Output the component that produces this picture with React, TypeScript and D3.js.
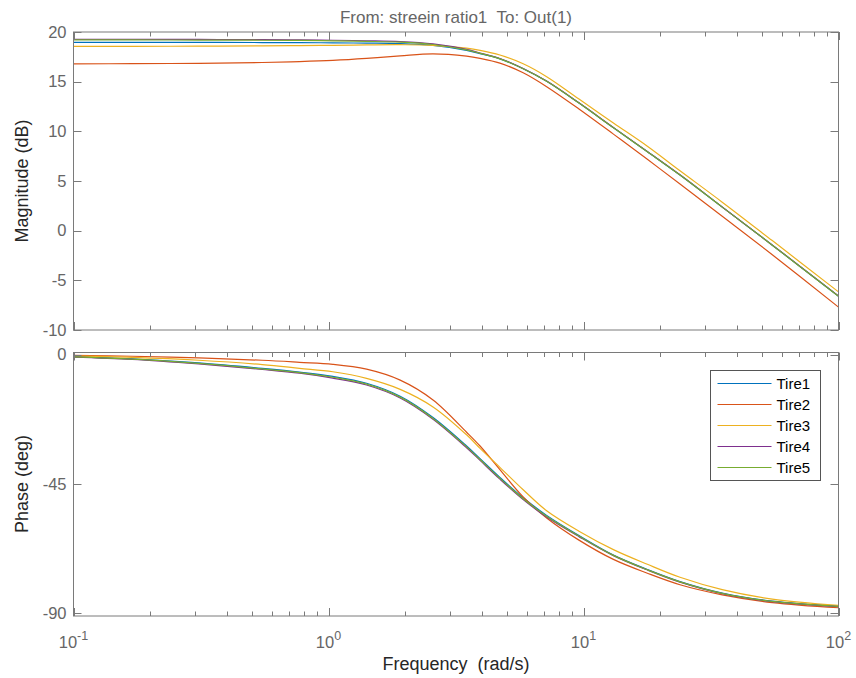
import React from 'react';
import * as d3 from 'd3';

// Sample frequencies (rad/s) shared by both panels
const freqs = [0.1, 0.17, 0.31, 0.55, 0.77, 1.04, 1.41, 1.91, 2.57, 3.48, 3.93, 4.7, 5.8, 7.17, 9.6, 13.1, 17.8, 23.9, 35, 55, 100];

const tireNames = ['Tire1', 'Tire2', 'Tire3', 'Tire4', 'Tire5'];
const tireColors = ['#0072BD', '#D95319', '#EDB120', '#7E2F8E', '#77AC30'];

// Magnitude (dB)
const magTire1 = [18.96, 18.96, 18.95, 18.94, 18.93, 18.91, 18.88, 18.83, 18.64, 18.15, 17.82, 17.3, 16.3, 15.04, 12.85, 10.37, 7.95, 5.6, 2.37, -1.46, -6.6];
const magTire2 = [16.8, 16.81, 16.85, 16.93, 17.02, 17.14, 17.34, 17.6, 17.8, 17.57, 17.35, 16.87, 15.9, 14.5, 12.25, 9.72, 7.18, 4.7, 1.46, -2.42, -7.7];
const magTire3 = [18.55, 18.56, 18.57, 18.6, 18.63, 18.66, 18.7, 18.72, 18.66, 18.37, 18.15, 17.68, 16.8, 15.5, 13.25, 10.84, 8.5, 6.03, 2.87, -1.0, -6.16];
const magTire4 = [19.26, 19.26, 19.25, 19.23, 19.21, 19.17, 19.12, 19.04, 18.8, 18.25, 17.89, 17.33, 16.33, 15.06, 12.87, 10.39, 7.97, 5.62, 2.39, -1.44, -6.58];
const magTire5 = [19.2, 19.2, 19.19, 19.17, 19.15, 19.11, 19.06, 18.98, 18.74, 18.2, 17.85, 17.3, 16.3, 15.04, 12.85, 10.37, 7.95, 5.6, 2.37, -1.46, -6.6];

// Phase (deg)
const phaseTire1 = [-0.7, -1.5, -2.9, -4.8, -6.1, -7.6, -10.0, -14.5, -21.9, -31.8, -36.2, -42.7, -49.8, -55.9, -62.9, -69.7, -74.7, -78.9, -82.9, -85.7, -87.5];
const phaseTire2 = [-0.3, -0.6, -1.2, -2.0, -2.7, -3.4, -5.1, -8.9, -15.8, -27.0, -31.8, -40.0, -49.5, -56.8, -64.5, -71.2, -76.0, -80.0, -83.5, -86.2, -88.0];
const phaseTire3 = [-0.5, -1.0, -2.0, -3.5, -4.8, -6.0, -8.3, -12.1, -18.2, -27.9, -32.6, -39.2, -47.0, -54.3, -61.4, -67.8, -72.9, -77.4, -81.7, -85.0, -87.2];
const phaseTire4 = [-0.9, -1.7, -3.3, -5.2, -6.5, -8.2, -10.6, -15.1, -22.5, -32.4, -36.8, -43.3, -50.4, -56.5, -63.3, -69.9, -74.9, -79.1, -83.1, -85.9, -87.6];
const phaseTire5 = [-0.8, -1.6, -3.1, -5.0, -6.3, -7.9, -10.3, -14.8, -22.2, -32.1, -36.5, -43.0, -50.1, -56.2, -63.1, -69.8, -74.8, -79.0, -83.0, -85.8, -87.5];

const magSeries = [magTire1, magTire2, magTire3, magTire4, magTire5];
const phaseSeries = [phaseTire1, phaseTire2, phaseTire3, phaseTire4, phaseTire5];

const magTicks = [-10, -5, 0, 5, 10, 15, 20];
const phaseTicks = [-90, -45, 0];
const decadeExps = [-1, 0, 1, 2];

const titleText = 'From: streein ratio1  To: Out(1)';
const xLabel = 'Frequency  (rad/s)';
const magLabel = 'Magnitude (dB)';
const phaseLabel = 'Phase (deg)';

const FONT = '"Liberation Sans", Arial, Helvetica, sans-serif';
const AXIS_COLOR = '#7a7a7a';
const TICK_TEXT = '#666666';
const LABEL_COLOR = '#262626';

const LEFT = 73.5;
const RIGHT = 838.5;

const x = d3.scaleLog().domain([0.1, 100]).range([LEFT, RIGHT]);
const xTicksAll = x.ticks();

type PanelProps = {
  id: string;
  y: d3.ScaleLinear<number, number>;
  series: number[][];
  yTicks: number[];
};

function Panel({ id, y, series, yTicks }: PanelProps) {
  const [top, bottom] = [y.range()[1], y.range()[0]];
  const line = (vals: number[]) =>
    d3
      .line<number>()
      .x((_, i) => x(freqs[i]))
      .y((v) => y(v))
      .curve(d3.curveCatmullRom.alpha(0.5))(vals) as string;
  const isMajor = (t: number) => Math.abs(Math.log10(t) - Math.round(Math.log10(t))) < 1e-6;
  return (
    <g>
      <defs>
        <clipPath id={`clip-${id}`}>
          <rect x={LEFT} y={top} width={RIGHT - LEFT} height={bottom - top} />
        </clipPath>
      </defs>
      <rect x={LEFT} y={top} width={RIGHT - LEFT} height={bottom - top} fill="#fff" />
      <g clipPath={`url(#clip-${id})`}>
        {series.map((vals, k) => (
          <path key={k} d={line(vals)} fill="none" stroke={tireColors[k]} strokeWidth={1.2} />
        ))}
      </g>
      {/* frame */}
      <rect x={LEFT} y={top} width={RIGHT - LEFT} height={bottom - top} fill="none" stroke={AXIS_COLOR} strokeWidth={1} />
      {/* x ticks, bottom and top edges, pointing inward */}
      {xTicksAll.map((t) => {
        const xp = Math.round(x(t)) + 0.5;
        const len = isMajor(t) ? 8 : 4.5;
        return (
          <g key={t}>
            <line x1={xp} x2={xp} y1={bottom} y2={bottom - len} stroke={AXIS_COLOR} />
            <line x1={xp} x2={xp} y1={top} y2={top + len} stroke={AXIS_COLOR} />
          </g>
        );
      })}
      {/* y ticks, left and right edges */}
      {yTicks.map((t) => {
        const yp = Math.round(y(t)) + 0.5;
        return (
          <g key={t}>
            <line x1={LEFT} x2={LEFT + 8} y1={yp} y2={yp} stroke={AXIS_COLOR} />
            <line x1={RIGHT} x2={RIGHT - 8} y1={yp} y2={yp} stroke={AXIS_COLOR} />
            <text
              x={LEFT - 7}
              y={y(t)}
              dy="0.35em"
              textAnchor="end"
              fontSize={16.5}
              fill={TICK_TEXT}
              fontFamily={FONT}
            >
              {t}
            </text>
          </g>
        );
      })}
    </g>
  );
}

export default function App() {
  const yMag = d3.scaleLinear().domain([-10, 20]).range([330, 32]);
  const yPhase = d3.scaleLinear().domain([-90.87, 0.7]).range([616, 352.5]);

  const legendX = 710.5;
  const legendY = 370.5;
  const legendRow = 21;

  return (
    <svg
      width={856}
      height={678}
      viewBox="0 0 856 678"
      style={{ position: 'absolute', left: 0, top: 0, background: '#fff' }}
    >
      <rect x={0} y={0} width={856} height={678} fill="#fff" />
      <text
        x={456}
        y={23}
        textAnchor="middle"
        fontSize={17}
        fill={TICK_TEXT}
        fontFamily={FONT}
        xmlSpace="preserve"
        style={{ whiteSpace: 'pre' }}
      >
        {titleText}
      </text>

      <Panel id="mag" y={yMag} series={magSeries} yTicks={magTicks} />
      <Panel id="phase" y={yPhase} series={phaseSeries} yTicks={phaseTicks} />

      {/* x tick labels as powers of ten */}
      {decadeExps.map((e) => (
        <text key={e} x={x(Math.pow(10, e))} y={648} textAnchor="middle" fontSize={16.5} fill={TICK_TEXT} fontFamily={FONT}>
          <tspan>10</tspan>
          <tspan dy={-8} fontSize={12.5}>
            {e}
          </tspan>
        </text>
      ))}

      <text
        x={456}
        y={670}
        textAnchor="middle"
        fontSize={18}
        fill={LABEL_COLOR}
        fontFamily={FONT}
        xmlSpace="preserve"
        style={{ whiteSpace: 'pre' }}
      >
        {xLabel}
      </text>
      <text
        transform={`translate(28,${yMag(5)}) rotate(-90)`}
        textAnchor="middle"
        fontSize={18}
        fill={LABEL_COLOR}
        fontFamily={FONT}
      >
        {magLabel}
      </text>
      <text
        transform={`translate(28,${yPhase(-45)}) rotate(-90)`}
        textAnchor="middle"
        fontSize={18}
        fill={LABEL_COLOR}
        fontFamily={FONT}
      >
        {phaseLabel}
      </text>

      {/* legend */}
      <g>
        <rect x={legendX} y={legendY} width={110} height={110} fill="#fff" stroke="#555" strokeWidth={1} />
        {tireNames.map((name, k) => {
          const yy = legendY + 13 + k * legendRow;
          return (
            <g key={name}>
              <line x1={legendX + 7} x2={legendX + 61} y1={yy} y2={yy} stroke={tireColors[k]} strokeWidth={1} />
              <text x={legendX + 66} y={yy} dy="0.35em" fontSize={15} fill="#000" fontFamily={FONT}>
                {name}
              </text>
            </g>
          );
        })}
      </g>
    </svg>
  );
}
